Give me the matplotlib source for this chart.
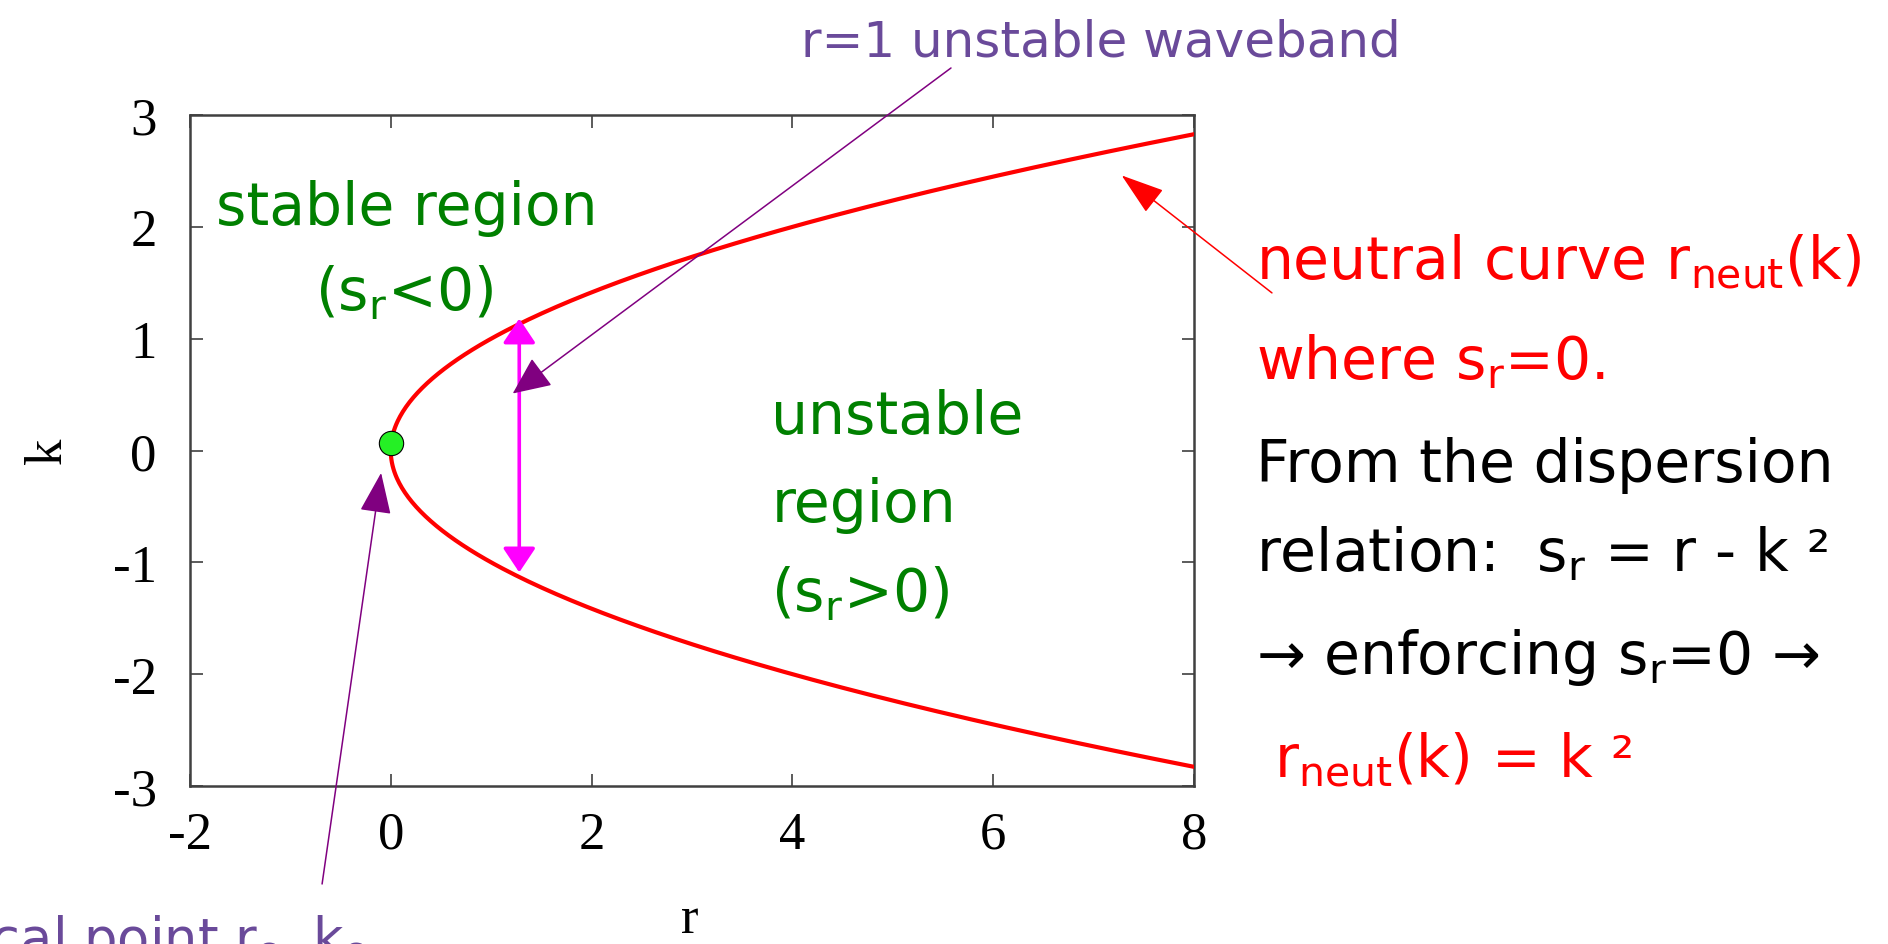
import numpy as np
import matplotlib
matplotlib.use('Agg')
import matplotlib.pyplot as plt

# neutral curve r_neut(k) = k^2, drawn out to r = 8
k_max = 2.83
# critical point (r_c, k_c) marker
crit_r, crit_k = 0.0, 0.07
# unstable waveband at fixed r
band_r = 1.28
band_k = [-1.09, 1.18]

r_ticks = [-2, 0, 2, 4, 6, 8]
k_ticks = [-3, -2, -1, 0, 1, 2, 3]

plt.rcParams['font.family'] = ['DejaVu Sans']
plt.rcParams['mathtext.default'] = 'regular'

green = '#008000'
purple_txt = '#6a4a9a'
purple = '#800080'

fig = plt.figure(figsize=(18.88, 9.45), dpi=100)
ax = fig.add_axes([0.1006, 0.1672, 0.5318, 0.710])

k = np.linspace(-k_max, k_max, 400)
ax.plot(k**2, k, color='red', lw=3.0, zorder=3)
ax.plot(crit_r, crit_k, 'o', ms=17.5, mfc='#25f025', mec='black', mew=0.8, zorder=5)

ax.set_xlim(-2, 8)
ax.set_ylim(-3, 3)
serif = 'Liberation Serif'
ax.set_xticks(r_ticks, labels=[str(t) for t in r_ticks], fontfamily=serif, fontsize=38)
ax.set_yticks(k_ticks, labels=[str(t) for t in k_ticks], fontfamily=serif, fontsize=38)
ax.tick_params(direction='in', top=True, right=True, length=9, width=1.2, color='#404040')
ax.tick_params(axis='x', pad=18)
ax.tick_params(axis='y', pad=24)
for s in ax.spines.values():
    s.set_linewidth(1.8)
    s.set_color('#404040')

ax.set_xlabel('r', fontfamily=serif, fontsize=38, va='center')
ax.set_ylabel('k', fontfamily=serif, fontsize=38, va='center', ha='center')
ax.xaxis.set_label_coords(0.498, -0.198)
ax.yaxis.set_label_coords(-0.141, 0.5)

# region labels
ax.text(-1.74, 2.03, 'stable region', color=green, fontsize=42)
ax.text(-0.755, 1.26, '(s$_r$<0)', color=green, fontsize=42)
ax.text(3.79, 0.16, 'unstable', color=green, fontsize=42)
ax.text(3.79, -0.63, 'region', color=green, fontsize=42)
ax.text(3.79, -1.43, '(s$_r$>0)', color=green, fontsize=42)

# waveband double arrow
ax.annotate('', xy=(band_r, band_k[1]), xytext=(band_r, band_k[0]),
            arrowprops=dict(arrowstyle='<|-|>,head_length=0.75,head_width=0.5',
                            color='magenta', lw=2.6, mutation_scale=20,
                            shrinkA=0, shrinkB=0), zorder=4)

# callouts
fig.text(0.424, 0.940, 'r=1 unstable waveband', color=purple_txt, fontsize=36)
ax.annotate('', xy=(1.215, 0.51), xycoords='data',
            xytext=(0.5037, 0.927), textcoords='figure fraction',
            arrowprops=dict(arrowstyle='-|>,head_length=1.2,head_width=0.54',
                            color=purple, lw=1.1, mutation_scale=20,
                            shrinkA=0, shrinkB=0), zorder=6)

fig.text(-0.058, -0.012, 'critical point r$_c$, k$_c$', color=purple_txt, fontsize=38)
ax.annotate('', xy=(-0.096, -0.2), xycoords='data',
            xytext=(0.1706, 0.0635), textcoords='figure fraction',
            arrowprops=dict(arrowstyle='-|>,head_length=1.3,head_width=0.5',
                            color=purple, lw=1.1, mutation_scale=20,
                            shrinkA=0, shrinkB=0), zorder=6)

ax.annotate('', xy=(7.28, 2.46), xycoords='data',
            xytext=(0.6737, 0.689), textcoords='figure fraction',
            arrowprops=dict(arrowstyle='-|>,head_length=1.37,head_width=0.45',
                            color='red', lw=1.1, mutation_scale=20,
                            shrinkA=0, shrinkB=0), zorder=6)

# explanation on the right
x0 = 0.665
fig.text(x0, 0.705, 'neutral curve r$_{neut}$(k)', color='red', fontsize=42)
fig.text(x0, 0.599, 'where s$_r$=0.', color='red', fontsize=42)
fig.text(x0, 0.490, 'From the dispersion', color='black', fontsize=42)
fig.text(x0, 0.395, 'relation:  s$_r$ = r - k ²', color='black', fontsize=42)
fig.text(x0, 0.287, '→ enforcing s$_r$=0 →', color='black', fontsize=42)
fig.text(0.675, 0.178, 'r$_{neut}$(k) = k ²', color='red', fontsize=42)

fig.savefig('out.png', dpi=100)
